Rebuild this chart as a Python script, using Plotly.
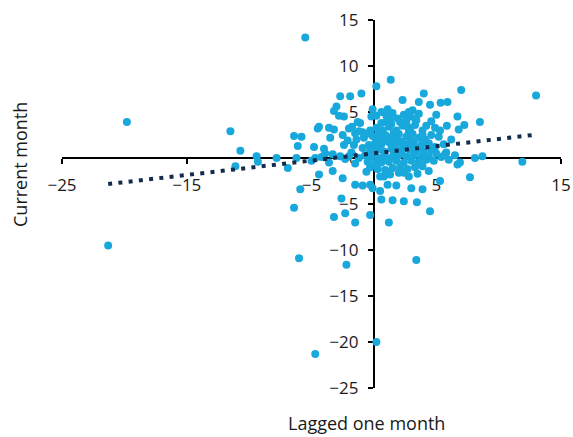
import plotly.graph_objects as go

# Monthly changes: lagged one month (x) vs current month (y)
lagged = [
    -5.5, -19.8, -21.3, -11.5, -10.7, -11.1, -9.4, -9.3, -7.8, -6.9,
    -6.4, -5.8, -6.1, -6.2, -4.8, -5.9, -6.4, -6.0, -2.2, 3.4,
    -4.7, 0.2, 13.0, 11.9, 7.0, 1.35, 0.2, -1.0, -1.9, -2.7,
    4.0, 2.3, 3.6, 4.5, 5.35, 5.9, 5.0, 6.7, 5.85, 7.25,
    8.5, 6.8, 6.2, 8.1, 8.7, 7.7, 6.7, 5.7, 5.3, 4.5,
    3.45, 3.9, 3.0, 2.4, 1.5, 0.6, 1.2, -0.3, -1.5, -3.2,
    -2.3, -2.6, -3.3, -2.5, -1.5, -0.9, -0.3, -0.1, 0.5, 0.8,
    1.1, 1.8, 2.4, -0.6, -4.4,
    -3.0, -3.2, -2.4, -2.8, -4.4, -4.5, -3.6, -3.2, -2.5, -1.75,
    -1.1, -1.5, -0.9, -0.1, -0.2, -2.4, -3.9, -3.3, -2.7, -4.2,
    -4.7, -2.3, -5.0, -3.6, -1.8, -2.0, -1.3, -3.5, -4.0,
    0.2, 0.6, 1.1, 1.5, 1.3, 2.8, 2.9, 3.1, 2.6, 3.6,
    4.2, 4.9, 4.6, 5.2, 3.9, 3.3, 2.9, 2.3, 1.8, 1.2,
    0.7, 0.2, -0.3, -0.6, -1.2, -0.8, -0.1, 0.4, 0.9, 1.5,
    2.0, 2.6, 3.1, 3.6, 4.1, 4.4, 3.8, 3.2, 2.7, 2.2,
    1.7, 1.2, 0.6, 0.1, -0.4, -0.9, -0.3, 0.3, 0.8, 1.4,
    1.9, 2.4, 2.9, 3.4, 4.0, 4.6, 5.0, 4.4, 3.8, 3.2,
    2.6, 2.0, 1.5, 0.9, 0.4, -0.2, -0.7, -1.2, -0.5, 0.1,
    0.6, 1.2, 1.8, 2.4, 3.0, 3.6, 4.2, 4.8, 5.4, 6.0,
    3.9, 3.3, 2.7, 2.1, 1.5, 0.9, 0.3, -0.3, 0.5, 1.3,
    2.0, 2.8, 3.5, 4.4, -1.5, -2.0, -1.6, -2.1, -1.4, 0.0,
    1.0, 1.9, 2.4, 3.4, 4.6, 5.3, 0.6, 1.6, 2.8, 3.9,
    5.6, 4.9, 5.8, 6.5, 6.9, 0.3, 1.7, 2.5, 3.0, 3.5,
    0.0, 0.4, 0.1, -0.2, 2.2, 1.0,
    1.4, 2.1, 2.7, 3.3, 0.8, 1.6, 2.3, 3.0, 0.5, 1.0,
]
current = [
    13.1, 3.9, -9.5, 2.9, 0.8, -0.9, 0.2, -0.4, 0.0, -1.1,
    2.4, 2.3, 1.3, 0.0, 1.2, -3.4, -5.4, -10.9, -11.6, -11.1,
    -21.3, -20.0, 6.8, -0.4, 7.4, 8.5, 7.8, 7.0, 6.7, 6.7,
    7.0, 6.3, 6.1, 5.8, 6.0, 6.1, 4.7, 4.5, 3.5, 3.6,
    3.9, 3.1, 2.0, 0.0, 0.2, -2.1, -0.7, 0.4, -2.5, -5.8,
    -4.8, -3.4, -3.3, -4.7, -4.6, -4.5, -7.0, -6.2, -7.0, -6.4,
    -6.0, -4.4, -1.4, -2.2, -2.9, -3.0, -2.9, -3.3, -3.6, -2.0,
    -2.9, -3.0, -1.6, -1.5, -1.8,
    5.6, 5.1, 4.5, 4.6, 3.4, 3.2, 3.3, 3.1, 2.5, 3.4,
    3.8, 2.7, 2.8, 5.3, 4.5, 1.4, 0.5, 0.4, 0.2, 0.1,
    0.0, -0.1, -0.3, -0.5, 0.6, 3.2, 3.9, 2.2, 1.0,
    4.6, 5.0, 5.3, 4.9, 4.2, 5.0, 4.5, 5.2, 4.0, 4.8,
    3.5, 3.3, 2.5, 2.3, 3.0, 3.6, 3.2, 3.5, 3.0, 3.4,
    3.0, 3.3, 3.0, 2.6, 2.9, 2.2, 2.4, 2.2, 2.5, 2.2,
    2.6, 2.3, 2.6, 2.2, 2.0, 1.6, 1.4, 1.7, 1.5, 1.8,
    1.5, 1.7, 1.5, 1.6, 1.4, 1.1, 0.8, 0.9, 0.7, 1.0,
    0.8, 1.1, 0.9, 0.8, 0.7, 0.9, 0.5, 0.2, 0.1, 0.3,
    0.2, 0.3, 0.1, 0.2, 0.0, 0.1, 0.3, 0.0, -0.4, -0.6,
    -0.5, -0.4, -0.3, -0.5, -0.3, -0.4, -0.2, -0.3, 0.1, -0.2,
    -0.9, -1.0, -1.2, -1.0, -1.1, -1.3, -1.2, -1.0, -2.0, -1.8,
    -1.6, -2.0, -1.7, -1.4, -0.6, 0.2, 1.4, 1.9, 2.0, 0.5,
    3.9, 4.3, 4.7, 4.1, 4.0, 3.0, 3.8, 2.8, 2.8, 2.5,
    1.5, 1.2, 0.6, 0.3, -0.5, 1.9, 2.0, 1.3, 1.9, 1.1,
    1.2, 2.7, -0.8, 0.7, 0.6, 2.4,
    3.7, 3.9, 3.4, 4.3, 1.9, 0.4, 1.3, 1.2, 2.8, 4.6,
]

# Linear trendline endpoints (min and max of lagged values)
trend_x = [-21.3, 13.0]
trend_y = [-2.83, 2.54]

x_range = [-25, 15]
y_range = [-25, 15]
x_ticks = [-25, -15, -5, 5, 15]
y_ticks = [15, 10, 5, 0, -5, -10, -15, -20, -25]

FONT = "Open Sans"

fig = go.Figure()
fig.add_trace(go.Scatter(
    x=lagged, y=current, mode="markers",
    marker=dict(color="#18a8dc", size=8, line=dict(width=0)),
    hoverinfo="x+y", showlegend=False,
))
fig.add_trace(go.Scatter(
    x=trend_x, y=trend_y, mode="lines",
    line=dict(color="#142c4c", width=4, dash="4px,6.3px"),
    hoverinfo="skip", showlegend=False,
))

# Axes cross at the origin: place each axis line at the zero of the other
x_pos = (0 - y_range[0]) / (y_range[1] - y_range[0])
y_pos = (0 - x_range[0]) / (x_range[1] - x_range[0])

axis_common = dict(
    showgrid=False, zeroline=False, showline=True,
    linecolor="black", linewidth=2,
    ticks="outside", ticklen=5, tickwidth=2, tickcolor="black",
    tickfont=dict(family=FONT, size=17, color="#1a1a1a"),
    layer="below traces", anchor="free", automargin=False,
)

fig.update_layout(
    width=573, height=437,
    margin=dict(l=62, r=12, t=20, b=49, autoexpand=False),
    paper_bgcolor="white", plot_bgcolor="white",
    xaxis=dict(range=x_range, tickvals=x_ticks, position=x_pos,
               ticklabelstandoff=7, **axis_common),
    yaxis=dict(range=y_range, tickvals=y_ticks, position=y_pos,
               ticklabelstandoff=6, **axis_common),
    annotations=[
        dict(text="Lagged one month", xref="paper", yref="paper",
             x=0.611, y=0, xanchor="center", yanchor="middle", yshift=-35,
             showarrow=False,
             font=dict(family=FONT, size=18, color="#1a1a1a")),
        dict(text="Current month", xref="paper", yref="paper",
             x=0, y=0.606, xanchor="center", yanchor="middle", xshift=-42,
             textangle=-90, showarrow=False,
             font=dict(family=FONT, size=18, color="#1a1a1a")),
    ],
)

fig.write_html("out.html")
